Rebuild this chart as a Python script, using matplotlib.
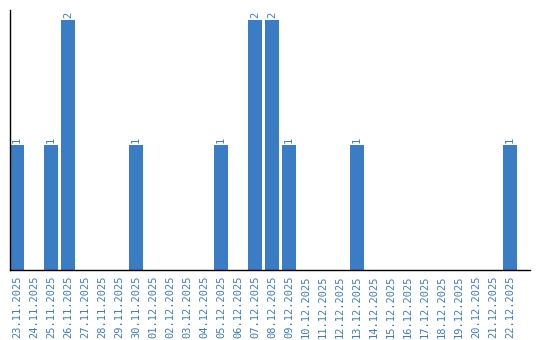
import matplotlib
matplotlib.use("Agg")
import matplotlib.pyplot as plt
import numpy as np

dates = ["23.11.2025", "24.11.2025", "25.11.2025", "26.11.2025", "27.11.2025",
         "28.11.2025", "29.11.2025", "30.11.2025", "01.12.2025", "02.12.2025",
         "03.12.2025", "04.12.2025", "05.12.2025", "06.12.2025", "07.12.2025",
         "08.12.2025", "09.12.2025", "10.12.2025", "11.12.2025", "12.12.2025",
         "13.12.2025", "14.12.2025", "15.12.2025", "16.12.2025", "17.12.2025",
         "18.12.2025", "19.12.2025", "20.12.2025", "21.12.2025", "22.12.2025"]
counts = [1, 0, 1, 2, 0, 0, 0, 1, 0, 0, 0, 0, 1, 0, 2,
          2, 1, 0, 0, 0, 1, 0, 0, 0, 0, 0, 0, 0, 0, 1]

blue = "#3b7dc4"
mono = "DejaVu Sans Mono"

fig = plt.figure(figsize=(5.4, 3.4), dpi=100)
ax = fig.add_axes([10 / 540, 70 / 340, 520 / 540, 260 / 340])

x = np.arange(len(dates))
ax.bar(x, counts, width=0.82, color=blue)

for xi, v in zip(x, counts):
    if v > 0:
        ax.text(xi, v + 0.02, str(v), rotation=90, ha="center", va="bottom",
                color=blue, fontsize=7.5, family=mono)

ax.set_xlim(-0.41, 30.18)
ax.set_ylim(0, 2.08)
ax.set_xticks(x)
ax.set_xticklabels(dates, rotation=90, color=blue, fontsize=7.5, family=mono)
ax.tick_params(axis="x", length=0, pad=4)
ax.set_yticks([])

for side in ["top", "right"]:
    ax.spines[side].set_visible(False)
ax.spines["left"].set_linewidth(1)
ax.spines["bottom"].set_linewidth(1)

fig.savefig("out.png", dpi=100)
